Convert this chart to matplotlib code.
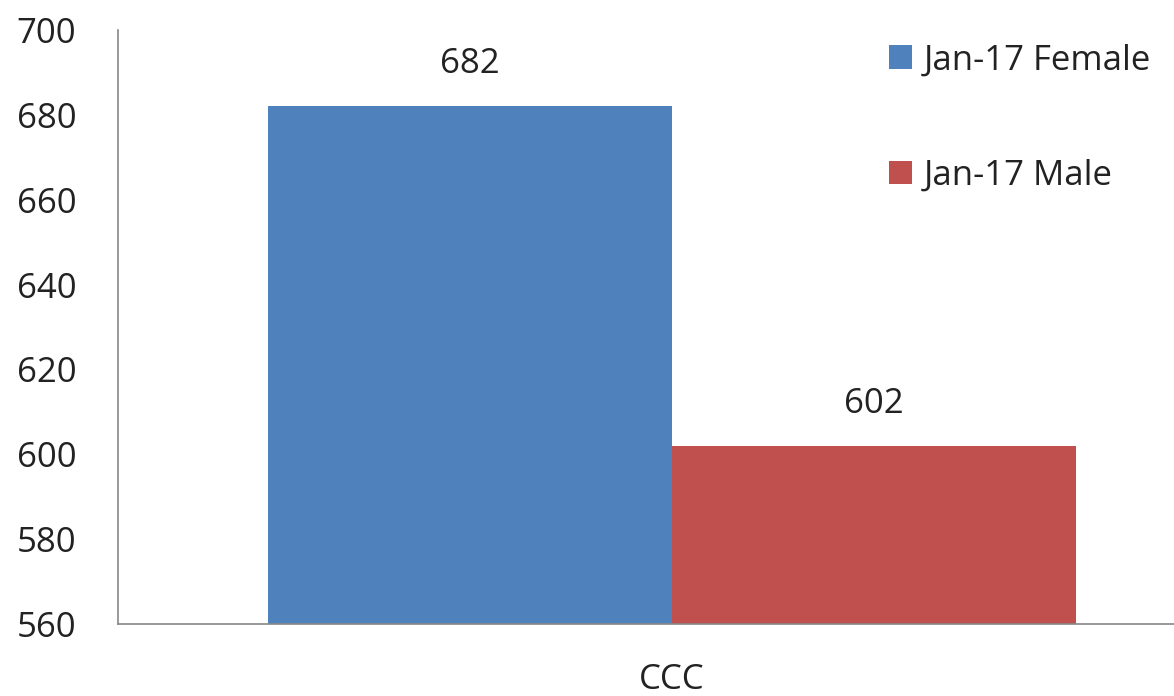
import matplotlib
matplotlib.use("Agg")
import matplotlib.pyplot as plt

categories = ["CCC"]
series = ["Jan-17 Female", "Jan-17 Male"]
values = [682, 602]
colors = ["#4F81BD", "#C0504D"]
yticks = [560, 580, 600, 620, 640, 660, 680, 700]

plt.rcParams["font.family"] = ["Open Sans", "DejaVu Sans"]

W, H = 1174, 696
fig = plt.figure(figsize=(W / 100, H / 100), dpi=100)
# axes extends past the right edge like the cropped original
ax = fig.add_axes([118 / W, (H - 624) / H, (1226 - 118) / W, (624 - 30) / H])

width = 0.365
offsets = [-width / 2, width / 2]
bars = []
for s, v, c, off in zip(series, values, colors, offsets):
    b = ax.bar(off, v - yticks[0], bottom=yticks[0], width=width, color=c, label=s)
    ax.bar_label(b, labels=[str(v)], padding=18, fontsize=25, color="#222222")
    bars.append(b)

ax.set_xlim(-0.5, 0.5)
ax.set_ylim(yticks[0], yticks[-1])
ax.set_yticks(yticks)
ax.set_xticks([0])
ax.set_xticklabels(categories)
ax.tick_params(axis="y", length=0, pad=30, labelsize=25, labelcolor="#222222")
ax.tick_params(axis="x", length=0, pad=28, labelsize=25, labelcolor="#222222")
for side in ["top", "right"]:
    ax.spines[side].set_visible(False)
for side in ["left", "bottom"]:
    ax.spines[side].set_color("#888888")
    ax.spines[side].set_linewidth(1.2)

fig.legend(handles=bars, labels=series, loc="upper left",
           bbox_to_anchor=(858 / W, 1 - 12 / H), frameon=False, fontsize=25,
           handlelength=0.65, handleheight=0.65, handletextpad=0.33,
           labelspacing=2.35, labelcolor="#222222")

fig.savefig("out.png", dpi=100)
